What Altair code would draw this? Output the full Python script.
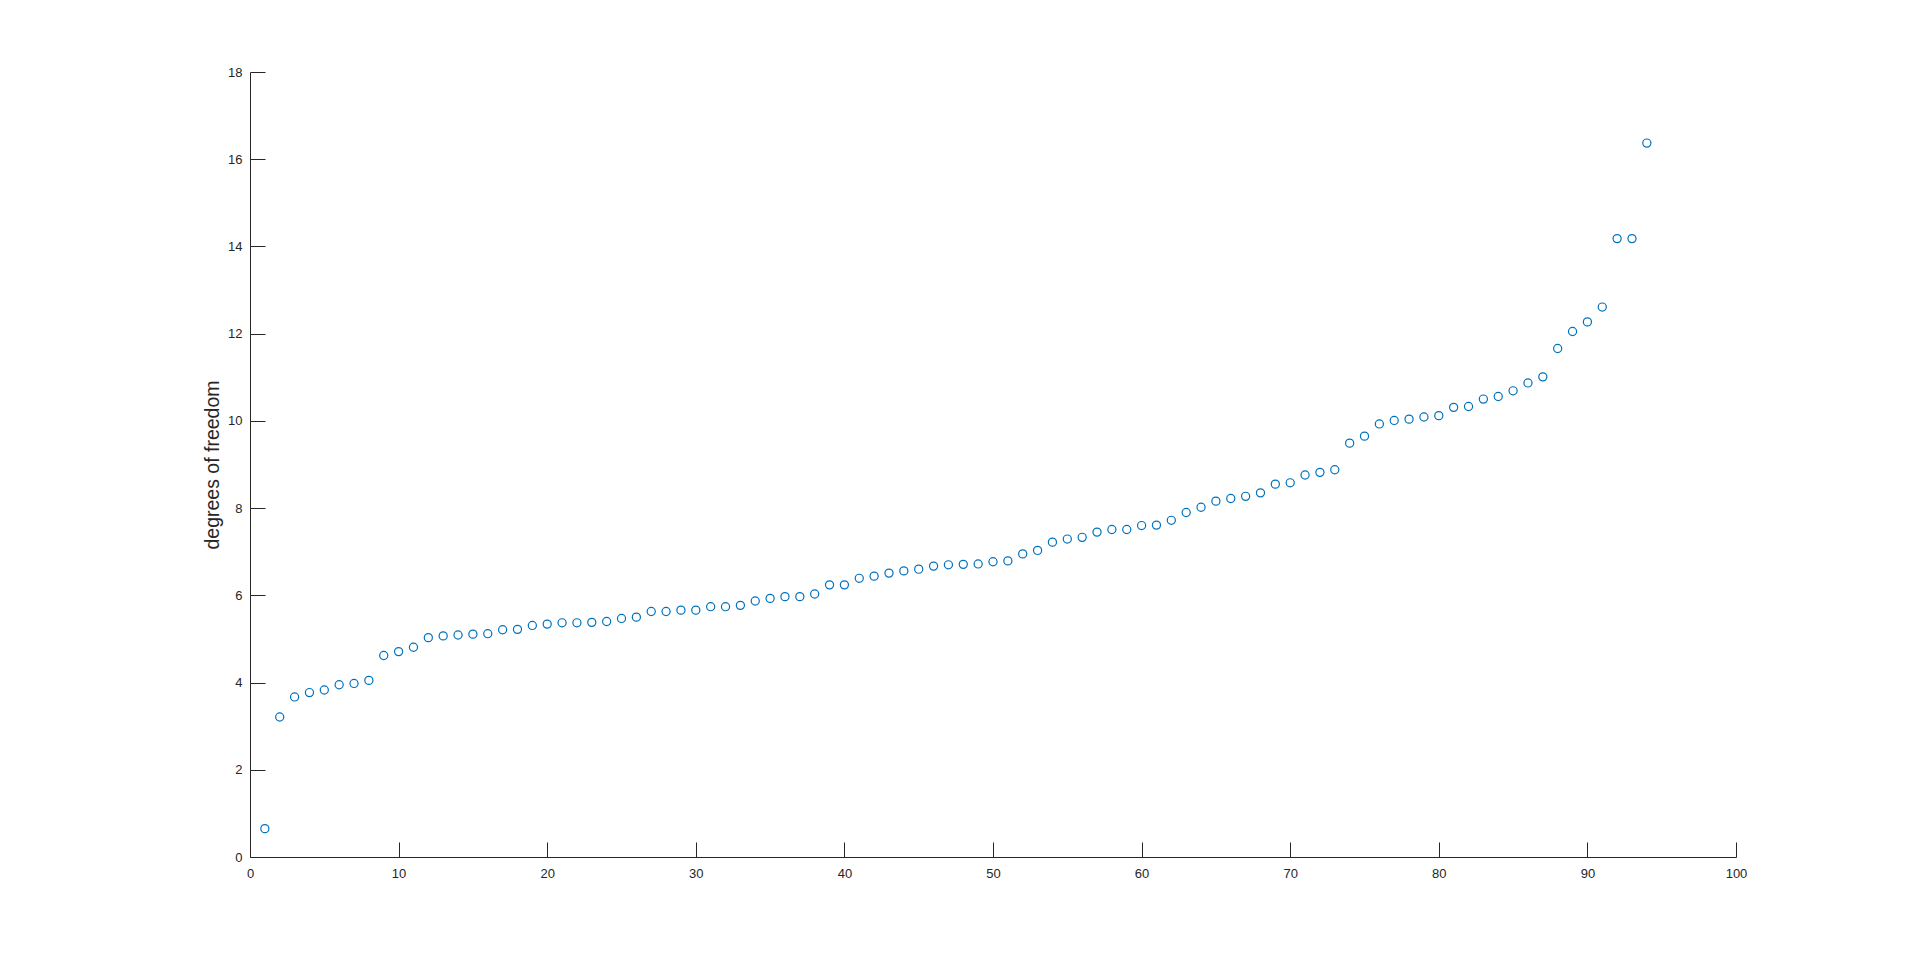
import altair as alt
import pandas as pd

# degrees of freedom, sorted
dof = [0.65, 3.21, 3.67, 3.77, 3.83, 3.95, 3.98, 4.05,
       4.62, 4.71, 4.81,
       5.03, 5.07, 5.09, 5.11, 5.12, 5.21, 5.22, 5.31, 5.34, 5.37, 5.37, 5.38, 5.40, 5.47,
       5.50, 5.63, 5.63, 5.66, 5.66, 5.74, 5.74, 5.77, 5.87, 5.93, 5.97, 5.97, 6.03,
       6.24, 6.24, 6.39, 6.44, 6.51, 6.56, 6.60, 6.67, 6.70, 6.71, 6.72, 6.77, 6.79,
       6.95, 7.03, 7.22, 7.29, 7.33, 7.45, 7.51, 7.51, 7.60, 7.61, 7.72, 7.90, 8.02,
       8.16, 8.22, 8.27, 8.35, 8.55, 8.58, 8.76, 8.82, 8.88,
       9.49, 9.65, 9.93, 10.01, 10.04, 10.09, 10.12, 10.31, 10.33, 10.50, 10.56,
       10.69, 10.87, 11.01, 11.66, 12.05, 12.27, 12.61, 14.18, 14.18, 16.37]
index = list(range(1, len(dof) + 1))

x_ticks = [0, 10, 20, 30, 40, 50, 60, 70, 80, 90, 100]
y_ticks = [0, 2, 4, 6, 8, 10, 12, 14, 16, 18]
y_title = "degrees of freedom"

df = pd.DataFrame({"index": index, "dof": dof})

W, H = 1486, 785
AX = "#262626"
FONT = "Liberation Sans"

x_scale = alt.Scale(domain=[0, 100], nice=False, zero=False)
y_scale = alt.Scale(domain=[0, 18], nice=False, zero=False)

base = alt.Chart(df)

points = base.mark_point(
    shape="circle", filled=False, size=66, strokeWidth=1.2,
    color="#0072BD", opacity=1
).encode(
    x=alt.X("index:Q", scale=x_scale, axis=alt.Axis(
        orient="bottom", values=x_ticks, ticks=False, tickSize=0,
        labelPadding=10, labelFlush=False, labelOverlap=False,
        labelFont=FONT, labelFontSize=13, labelColor=AX,
        domain=True, domainColor=AX, domainWidth=1,
        grid=False, title=None)),
    y=alt.Y("dof:Q", scale=y_scale, axis=alt.Axis(
        orient="left", values=y_ticks, ticks=False, tickSize=0,
        labelPadding=8, labelOverlap=False, labelFlush=False,
        labelFont=FONT, labelFontSize=13, labelColor=AX,
        domain=True, domainColor=AX, domainWidth=1, grid=False,
        title=y_title, titleFont=FONT, titleFontSize=19.5,
        titleFontWeight="normal", titleColor=AX,
        titleX=-32, titleY=H / 2, titleAngle=270,
        titleAlign="center", titleBaseline="alphabetic")),
)

tick_layer = base.mark_point(opacity=0).encode(
    x=alt.X("index:Q", scale=x_scale, axis=alt.Axis(
        orient="top", offset=-H, values=x_ticks, labels=False,
        domain=False, ticks=True, tickSize=15, tickColor=AX,
        tickWidth=1, grid=False, title=None)),
    y=alt.Y("dof:Q", scale=y_scale, axis=alt.Axis(
        orient="right", offset=-W, values=y_ticks, labels=False,
        domain=False, ticks=True, tickSize=15, tickColor=AX,
        tickWidth=1, grid=False, title=None)),
)

chart = alt.layer(points, tick_layer).resolve_axis(
    x="independent", y="independent"
).properties(
    width=W, height=H,
    autosize=alt.AutoSizeParams(type="none"),
    padding={"left": 242, "top": 64, "right": 170, "bottom": 90},
    background="white",
).configure_view(strokeWidth=0)

chart.save("out.html", embed_options={"renderer": "svg", "actions": False})
